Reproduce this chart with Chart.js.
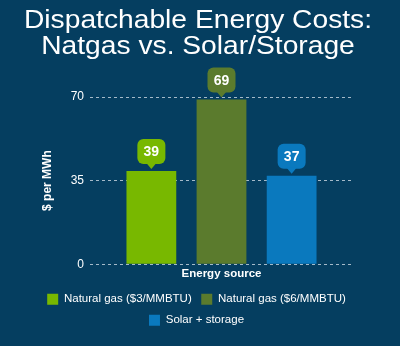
<!DOCTYPE html>
<html>
<head>
<meta charset="utf-8">
<script src="https://cdn.jsdelivr.net/npm/chart.js@4/dist/chart.umd.min.js"></script>
<style>
  html, body { margin: 0; padding: 0; background: #053e60; }
  #wrap { width: 400px; height: 346px; }
</style>
</head>
<body>
<div id="wrap"><canvas id="costChart" width="400" height="346"></canvas></div>
<script>
// Chart data
const titleLines = ['Dispatchable Energy Costs:', 'Natgas vs. Solar/Storage'];
const categories = ['Energy source'];
const seriesNames = ['Natural gas ($3/MMBTU)', 'Natural gas ($6/MMBTU)', 'Solar + storage'];
const seriesValues = [[39], [69], [37]];
const seriesColors = ['#78b800', '#5b7b2d', '#0a79be'];
const yTicks = [0, 35, 70];

const FONT = '"Liberation Sans", Arial, sans-serif';

// Title drawn by hand, slightly widened (the original face is wider than Arial)
const titlePlugin = {
    id: 'wideTitle',
    afterDraw(chart) {
        const ctx = chart.ctx;
        ctx.save();
        ctx.fillStyle = '#ffffff';
        ctx.font = '26px ' + FONT;
        ctx.textAlign = 'center';
        ctx.textBaseline = 'alphabetic';
        titleLines.forEach((line, i) => {
            ctx.save();
            ctx.translate(198, 27.5 + i * 26);
            ctx.scale(1.085, 1);
            ctx.fillText(line, 0, 0);
            ctx.restore();
        });
        ctx.restore();
    }
};

// Draws the little callout box with the value above each bar
const calloutPlugin = {
    id: 'callouts',
    afterDatasetsDraw(chart) {
        const ctx = chart.ctx;
        chart.data.datasets.forEach((ds, i) => {
            const meta = chart.getDatasetMeta(i);
            if (meta.hidden) return;
            meta.data.forEach((bar, j) => {
                const x = bar.x, top = bar.y;
                const w = 28, h = 25, r = 6, tip = 5, gap = 2;
                const bottom = top - gap - tip;
                const left = x - w / 2;
                ctx.save();
                ctx.fillStyle = ds.backgroundColor;
                ctx.beginPath();
                ctx.roundRect(left, bottom - h, w, h, r);
                ctx.fill();
                ctx.beginPath();
                ctx.moveTo(x - 5, bottom - 1);
                ctx.lineTo(x, bottom + tip);
                ctx.lineTo(x + 5, bottom - 1);
                ctx.closePath();
                ctx.fill();
                ctx.fillStyle = '#ffffff';
                ctx.font = 'bold 14px ' + FONT;
                ctx.textAlign = 'center';
                ctx.textBaseline = 'middle';
                ctx.fillText(ds.data[j], x, bottom - h / 2 + 1);
                ctx.restore();
            });
        });
    }
};

const ctx = document.getElementById('costChart').getContext('2d');
const costChart = new Chart(ctx, {
    type: 'bar',
    data: {
        labels: categories,
        datasets: seriesNames.map((name, i) => ({
            label: name,
            data: seriesValues[i],
            backgroundColor: seriesColors[i],
            borderWidth: 0,
            categoryPercentage: 0.8,
            barPercentage: 0.71
        }))
    },
    options: {
        responsive: false,
        animation: false,
        layout: { padding: { left: 33, right: 40, top: 97, bottom: 10 } },
        scales: {
            y: {
                min: 0,
                max: 70,
                afterBuildTicks: (axis) => { axis.ticks = yTicks.map(v => ({ value: v })); },
                afterFit: (axis) => { axis.width = 57; },
                grid: {
                    color: 'rgba(205,218,228,0.8)',
                    drawTicks: false
                },
                border: { display: false, dash: [3, 3] },
                ticks: {
                    color: '#ffffff',
                    padding: 6,
                    font: { family: FONT, size: 12 }
                },
                title: {
                    display: true,
                    text: '$ per MWh',
                    color: '#ffffff',
                    padding: { top: 7, bottom: 0 },
                    font: { family: FONT, size: 12, weight: 'bold' }
                }
            },
            yr: {
                type: 'linear',
                position: 'right',
                afterFit: (axis) => { axis.width = 7; },
                grid: { display: false, drawTicks: false },
                border: { display: false },
                ticks: { display: false }
            },
            x: {
                grid: { display: false, drawTicks: false },
                border: { display: false },
                ticks: {
                    color: '#ffffff',
                    padding: 3,
                    font: { family: FONT, size: 11.5, weight: 'bold' }
                }
            }
        },
        plugins: {
            title: { display: false },
            legend: {
                position: 'bottom',
                labels: {
                    color: '#ffffff',
                    boxWidth: 11,
                    boxHeight: 11,
                    padding: 9.5,
                    font: { family: FONT, size: 11.5 }
                }
            },
            tooltip: { enabled: false }
        }
    },
    plugins: [calloutPlugin, titlePlugin]
});
</script>
</body>
</html>
